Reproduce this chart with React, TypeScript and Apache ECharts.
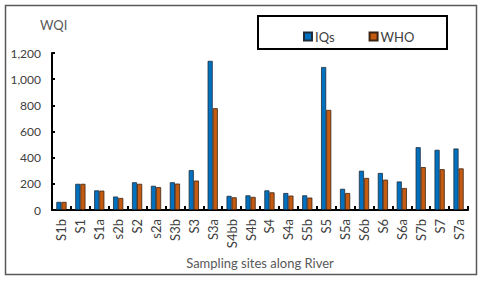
import React, { useEffect, useRef } from "react";
import * as echarts from "echarts";

const categories = ["S1b", "S1", "S1a", "s2b", "S2", "s2a", "S3b", "S3", "S3a", "S4bb", "S4b", "S4", "S4a", "S5b", "S5", "S5a", "S6b", "S6", "S6a", "S7b", "S7", "S7a"];
const iqsValues = [62, 200, 150, 103, 212, 185, 212, 305, 1140, 108, 112, 150, 130, 112, 1093, 162, 300, 283, 218, 480, 460, 470];
const whoValues = [62, 200, 148, 92, 200, 175, 202, 225, 778, 97, 100, 135, 110, 95, 765, 130, 245, 232, 168, 328, 312, 318];
const yTicks = [0, 200, 400, 600, 800, 1000, 1200];

const FONT = "Lato, 'Open Sans', sans-serif";

export default function App() {
  const ref = useRef<HTMLDivElement>(null);
  useEffect(() => {
    if (!ref.current) return;
    const chart = echarts.init(ref.current, undefined, { renderer: "svg" });
    chart.setOption({
      animation: false,
      backgroundColor: "#ffffff",
      textStyle: { fontFamily: FONT },
      grid: { left: 52, right: 12, top: 53, bottom: 71 },
      legend: {
        data: ["IQs", "WHO"],
        left: 298,
        top: 25,
        icon: "rect",
        itemWidth: 8,
        itemHeight: 8,
        itemGap: 34,
        textStyle: { fontFamily: FONT, fontSize: 13, color: "#404040", padding: [0, 0, 0, -2] },
      },
      graphic: [
        {
          type: "rect",
          shape: { x: 5.5, y: 5.5, width: 471, height: 269 },
          style: { fill: "none", stroke: "#595959", lineWidth: 1.5 },
          silent: true,
        },
        {
          type: "rect",
          shape: { x: 258, y: 16, width: 189, height: 33 },
          style: { fill: "none", stroke: "#000000", lineWidth: 2 },
          silent: true,
        },
        {
          type: "text",
          left: 40,
          top: 18,
          style: { text: "WQI", fontFamily: FONT, fontSize: 13, fill: "#595959" },
        },
      ],
      xAxis: {
        type: "category",
        data: categories,
        name: "Sampling sites along River",
        nameLocation: "middle",
        nameGap: 45,
        nameTextStyle: { fontFamily: FONT, fontSize: 13, color: "#595959" },
        axisLine: { lineStyle: { color: "#000000", width: 2 } },
        axisTick: { show: true, inside: true, length: 4, lineStyle: { color: "#000", width: 2 } },
        axisLabel: { rotate: 90, fontFamily: FONT, fontSize: 13, color: "#404040", margin: 9 },
      },
      yAxis: {
        type: "value",
        min: 0,
        max: 1200,
        interval: 200,
        axisLine: { show: true, lineStyle: { color: "#000000", width: 2 } },
        axisTick: { show: true, inside: true, length: 3, lineStyle: { color: "#000", width: 2 } },
        splitLine: { show: false },
        axisLabel: {
          fontFamily: FONT,
          fontSize: 12,
          color: "#404040",
          margin: 11,
          formatter: (v: number) => (yTicks.includes(v) ? v.toLocaleString("en-US") : ""),
        },
      },
      series: [
        {
          name: "IQs",
          type: "bar",
          data: iqsValues,
          barGap: "0%",
          barCategoryGap: "46%",
          itemStyle: { color: "#0070C0", borderColor: "#1f2d3a", borderWidth: 0.8 },
        },
        {
          name: "WHO",
          type: "bar",
          data: whoValues,
          itemStyle: { color: "#C55A11", borderColor: "#3a2414", borderWidth: 0.8 },
        },
      ],
    });
    return () => chart.dispose();
  }, []);
  return (
    <div
      ref={ref}
      style={{ position: "fixed", left: 0, top: 0, width: 480, height: 281 }}
    />
  );
}
